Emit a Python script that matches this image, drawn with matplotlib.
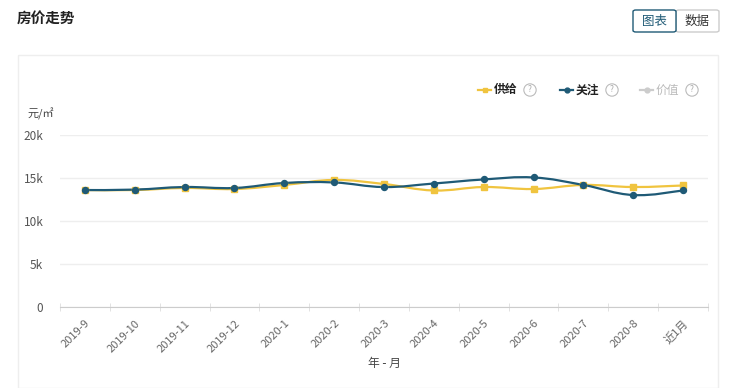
import numpy as np
import matplotlib
matplotlib.use("Agg")
import matplotlib.pyplot as plt
from matplotlib.path import Path
from matplotlib.patches import PathPatch, Rectangle, FancyBboxPatch
from matplotlib.lines import Line2D

plt.rcParams['font.family'] = ['Noto Sans CJK SC', 'DejaVu Sans']

# 数据
months = ['2019-9', '2019-10', '2019-11', '2019-12', '2020-1', '2020-2', '2020-3',
          '2020-4', '2020-5', '2020-6', '2020-7', '2020-8', '近1月']
supply = [13600, 13600, 13840, 13720, 14190, 14770, 14300,
          13550, 13950, 13720, 14190, 13950, 14130]   # 供给
focus = [13600, 13650, 13950, 13840, 14420, 14480, 13950,
         14360, 14830, 15060, 14190, 13020, 13550]    # 关注
yticks = [0, 5000, 10000, 15000, 20000]
ytick_labels = ['0', '5k', '10k', '15k', '20k']

c_supply = '#f0c43f'
c_focus = '#1f5a76'
c_gray = '#cccccc'

W, H = 732, 388
fig = plt.figure(figsize=(W / 100, H / 100), dpi=100)


def fx(px):
    return px / W


def fy(py):
    return 1 - py / H


# 外框卡片
fig.patches.append(Rectangle((fx(18), fy(388)), fx(700), fy(55) - fy(388), transform=fig.transFigure,
                             facecolor='white', edgecolor='#eeeeee', linewidth=1, zorder=-10))
fig.text(fx(17), fy(18), '房价走势', fontsize=10.5, fontweight='bold', color='#222222', va='center')

# 图表 / 数据 按钮
fig.patches.append(FancyBboxPatch((fx(633), fy(32)), fx(43), fy(10) - fy(32), transform=fig.transFigure,
                                  boxstyle='round,pad=0,rounding_size=0.004', facecolor='white',
                                  edgecolor=c_focus, linewidth=1, zorder=3))
fig.patches.append(FancyBboxPatch((fx(676), fy(32)), fx(43), fy(10) - fy(32), transform=fig.transFigure,
                                  boxstyle='round,pad=0,rounding_size=0.004', facecolor='white',
                                  edgecolor='#cccccc', linewidth=1, zorder=2))
fig.text(fx(654.5), fy(21), '图表', fontsize=9, color=c_focus, ha='center', va='center')
fig.text(fx(697.5), fy(21), '数据', fontsize=9, color='#333333', ha='center', va='center')

# 坐标轴
ax = fig.add_axes([fx(60), fy(307), fx(648), fy(135) - fy(307)])
ax.patch.set_alpha(0)
n = len(months)
x = np.arange(n)
ax.set_xlim(-0.5, n - 0.5)
ax.set_ylim(0, 20000)


def smooth_path(xs, ys, s=0.2):
    pts = np.column_stack([xs, ys]).astype(float)
    verts = [pts[0]]
    codes = [Path.MOVETO]
    for i in range(len(pts) - 1):
        p0 = pts[max(i - 1, 0)]
        p1 = pts[i]
        p2 = pts[i + 1]
        p3 = pts[min(i + 2, len(pts) - 1)]
        cp1 = p1 + (p2 - p0) * s
        cp2 = p2 - (p3 - p1) * s
        verts += [cp1, cp2, p2]
        codes += [Path.CURVE4] * 3
    return Path(verts, codes)


for vals, col, mk in [(supply, c_supply, 's'), (focus, c_focus, 'o')]:
    ax.add_patch(PathPatch(smooth_path(x, vals), facecolor='none', edgecolor=col, linewidth=1.6, zorder=3))
    ax.plot(x, vals, linestyle='none', marker=mk, markersize=4.3, color=col, zorder=4)

for s in ['top', 'right', 'left']:
    ax.spines[s].set_visible(False)
ax.spines['bottom'].set_color('#cccccc')
ax.set_yticks(yticks)
ax.set_yticklabels(ytick_labels)
ax.grid(axis='y', color='#eeeeee', linewidth=1)
ax.set_axisbelow(True)
ax.tick_params(axis='y', length=0, labelsize=8.5, labelcolor='#555555', pad=12)
ax.set_xticks(x)
ax.set_xticklabels(months, rotation=45, ha='right', rotation_mode='anchor')
ax.tick_params(axis='x', which='major', length=0, labelsize=8, labelcolor='#666666', pad=8)
ax.set_xticks(np.arange(-0.5, n), minor=True)
ax.tick_params(axis='x', which='minor', length=6, direction='inout', color='#dddddd')
ax.set_xlabel('年 - 月', fontsize=8.5, color='#444444', labelpad=2)

fig.text(fx(28), fy(114), '元/㎡', fontsize=8, color='#444444', va='center')

# 图例
legend_items = [('供给', c_supply, 's', 478, '#222222'), ('关注', c_focus, 'o', 560, '#222222'),
                ('价值', c_gray, 'o', 640, '#bbbbbb')]
for label, col, mk, px, tcol in legend_items:
    fig.add_artist(Line2D([fx(px), fx(px + 13)], [fy(90), fy(90)], color=col, linewidth=1.6,
                          transform=fig.transFigure))
    fig.add_artist(Line2D([fx(px + 6.5)], [fy(90)], marker=mk, markersize=3.5, color=col,
                          transform=fig.transFigure))
    fig.text(fx(px + 16), fy(90), label, fontsize=8.5, color=tcol, va='center',
             fontweight='bold' if tcol != '#bbbbbb' else 'normal')
    fig.text(fx(px + 52), fy(90), '?', fontsize=6, color='#aaaaaa', ha='center', va='center',
             bbox=dict(boxstyle='circle,pad=0.2', facecolor='white', edgecolor='#bbbbbb', linewidth=0.8))

fig.savefig('out.png', dpi=100)
